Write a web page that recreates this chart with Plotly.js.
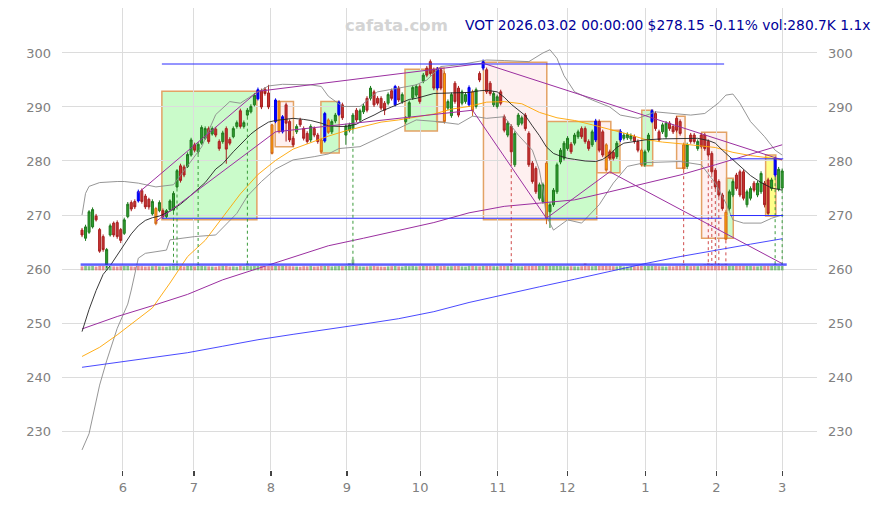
<!DOCTYPE html>
<html><head><meta charset="utf-8">
<script src="https://cdn.plot.ly/plotly-3.0.1.min.js"></script>
<style>html,body{margin:0;padding:0;background:#fff}#chart{width:878px;height:505px}</style>
</head><body><div id="chart"></div>
<script>
// ---- daily OHLC (trading-day index 0..199, 2025-05-15 .. 2026-03-02) ----
const openP = [267.2,265.7,266.8,267.8,269.8,267.3,266.0,260.8,266.3,268.5,
268.6,267.3,266.6,269.7,272.3,272.5,274.3,274.5,273.5,272.9,
270.2,271.2,270.8,270.8,269.7,271.0,270.9,275.2,279.1,278.9,
279.0,281.1,283.0,281.7,283.3,284.2,286.0,285.0,285.9,283.6,
283.6,286.0,284.0,284.5,286.4,289.3,286.4,288.5,289.1,290.4,
291.5,293.0,293.3,292.6,286.7,287.3,291.0,285.4,290.4,287.3,
284.2,285.4,287.6,286.0,285.1,283.9,286.0,284.8,283.9,283.7,
287.6,285.4,287.4,288.6,290.4,284.8,285.7,286.0,289.4,287.6,
289.1,291.6,291.6,292.8,291.6,291.6,290.7,290.7,293.0,290.4,
293.5,291.0,287.3,288.2,291.7,292.2,293.8,294.8,297.2,298.4,
296.9,293.5,296.9,296.2,289.8,288.4,294.4,293.5,290.7,291.0,
290.4,292.8,290.1,296.2,297.2,296.9,294.4,290.4,290.1,292.8,
288.2,284.8,286.4,279.3,286.7,287.0,288.5,285.1,279.6,278.6,
273.1,272.5,279.6,270.6,271.9,274.3,279.8,280.5,282.3,283.1,
283.3,284.5,286.0,286.0,283.6,283.0,283.9,287.3,285.4,283.0,
281.7,281.6,280.8,283.9,284.2,284.3,284.1,284.5,283.6,282.0,
279.3,282.0,287.3,288.8,285.4,285.4,284.5,287.0,286.4,287.9,
287.3,283.0,279.0,284.8,284.8,282.3,284.8,284.8,283.6,281.4,
278.3,276.2,273.7,270.5,271.2,273.7,277.4,278.0,278.0,271.9,
273.1,275.9,273.7,274.3,275.9,276.5,274.9,277.4,274.8,275.0];
const highP = [267.6,268.2,270.9,271.4,270.2,267.6,266.4,263.9,268.4,268.8,
269.0,267.6,269.5,272.4,272.7,272.9,274.7,274.9,273.9,273.2,
272.9,271.5,272.7,271.2,271.1,272.9,274.4,278.5,279.5,279.3,
281.6,284.3,283.4,283.5,286.6,286.4,286.4,286.4,286.3,284.0,
285.6,286.4,284.4,286.4,287.5,289.7,287.5,289.8,290.5,292.6,
293.6,293.4,293.7,294.1,286.9,291.6,291.3,288.5,290.8,287.7,
284.6,286.8,288.0,286.4,285.5,286.8,286.4,285.2,284.2,289.1,
287.9,287.7,288.9,291.2,290.8,286.9,287.1,288.9,289.8,289.7,
290.6,292.0,293.9,293.2,292.0,292.0,291.1,292.7,293.4,294.1,
293.9,292.7,288.3,291.2,294.0,294.2,294.2,296.3,297.6,298.8,
297.3,297.4,297.3,296.6,291.4,292.7,294.8,293.9,293.2,292.7,
294.0,293.2,293.6,296.6,298.8,297.3,294.8,292.9,292.3,293.2,
288.6,287.4,286.8,285.5,288.9,288.4,288.9,285.5,280.0,279.0,
276.0,276.0,279.9,272.3,275.0,279.7,282.4,283.7,284.6,283.5,
285.2,285.8,286.4,286.4,284.0,285.8,287.8,287.7,285.8,283.3,
282.1,282.0,283.7,285.9,285.2,285.3,285.1,284.9,284.0,282.3,
282.1,285.2,289.6,289.2,285.8,287.1,287.4,287.4,286.8,288.3,
287.7,283.4,283.4,285.2,285.2,284.0,285.2,285.2,284.0,281.8,
278.7,276.6,274.1,270.9,274.7,276.6,277.8,278.4,278.4,274.7,
275.3,276.3,276.3,278.1,276.3,276.9,276.9,280.8,278.9,278.6];
const lowP = [265.9,265.2,266.5,267.5,268.8,263.0,263.2,260.2,266.0,265.9,
265.6,264.8,266.3,269.4,270.7,271.1,272.3,272.1,271.1,271.0,
269.9,268.1,270.5,269.3,269.4,270.7,270.6,274.9,276.0,277.0,
278.7,280.8,281.6,281.3,283.0,283.9,283.2,284.7,284.4,281.9,
283.2,279.5,282.9,284.2,286.0,286.0,286.0,288.2,288.8,290.1,
291.2,289.6,292.1,289.6,281.2,287.0,285.1,285.1,283.6,283.5,
282.6,285.0,286.3,283.8,283.2,283.5,284.4,283.2,281.4,283.4,
285.0,285.0,287.0,288.3,287.6,283.0,285.3,285.6,287.2,287.2,
288.7,289.0,291.2,290.0,290.3,289.4,288.5,290.3,291.2,290.1,
290.9,290.6,286.9,287.8,291.3,291.8,290.6,294.4,295.5,295.8,
293.1,293.1,293.1,286.9,289.4,288.0,290.6,288.1,290.3,290.6,
290.0,288.3,289.7,294.6,296.8,292.4,292.1,290.0,289.7,290.3,
285.3,284.4,279.6,278.9,286.3,286.6,285.6,278.9,275.8,273.9,
272.7,272.1,268.3,267.6,271.5,273.9,279.4,280.1,281.9,281.3,
282.9,284.1,284.1,283.2,281.9,282.6,283.5,281.6,280.7,278.0,
280.1,280.1,280.4,283.5,283.8,283.9,283.7,283.2,281.6,279.0,
278.9,281.6,287.0,285.6,283.5,285.0,284.1,285.6,285.0,285.3,
284.7,278.3,278.5,283.2,283.2,281.9,282.3,281.9,280.7,277.6,
274.8,273.3,270.8,265.3,270.8,273.3,274.5,273.3,272.7,271.4,
272.7,274.2,273.3,273.9,271.4,269.9,274.5,277.0,274.4,274.6];
const closeP = [266.3,267.8,270.6,271.0,269.1,263.3,263.6,263.6,268.0,266.3,
266.0,265.3,269.1,272.0,271.1,271.5,272.6,272.5,271.5,271.5,
272.5,268.4,272.3,269.7,270.8,272.6,274.0,278.2,276.4,277.4,
281.2,283.9,282.0,283.1,286.2,286.0,283.6,286.0,284.8,282.3,
285.2,282.2,283.3,286.0,287.1,286.4,287.1,289.4,290.1,292.2,
293.2,290.0,292.5,290.0,281.4,291.3,285.4,288.2,287.0,283.9,
283.0,286.4,286.7,284.2,283.6,286.4,284.8,283.6,281.7,288.8,
285.3,287.3,288.5,290.9,288.0,286.5,286.7,288.5,287.6,289.3,
290.2,289.4,293.5,290.4,290.7,289.8,289.4,292.3,291.6,293.8,
291.3,292.3,287.9,290.8,293.6,293.8,291.0,295.9,295.9,296.2,
293.5,297.0,293.5,287.3,291.0,292.3,291.0,288.5,292.8,292.3,
293.6,289.3,293.2,295.0,298.4,292.8,292.5,292.5,291.9,290.7,
285.7,287.0,281.7,285.1,288.5,288.0,286.0,279.3,276.2,274.3,
275.6,275.6,269.4,271.9,274.6,279.3,282.0,283.3,284.2,281.7,
284.8,285.4,284.5,283.6,282.3,285.4,287.4,282.0,281.1,278.3,
280.5,280.5,283.3,285.5,284.8,284.9,284.7,283.6,282.0,279.3,
281.7,284.8,289.3,286.0,283.9,286.7,287.0,286.0,285.4,285.7,
285.1,278.6,283.0,283.6,283.6,283.6,282.7,282.3,281.1,278.0,
275.2,273.7,271.2,265.5,274.3,276.2,274.9,273.7,273.1,274.3,
274.9,274.6,275.9,277.7,271.9,270.3,276.5,280.5,278.46,278.15];
const volumeK = [240,260,250,270,230,300,280,320,250,240,
230,250,260,270,240,220,260,250,230,240,
250,280,240,230,220,250,380,390,260,240,
270,280,240,370,260,250,240,230,220,250,
260,280,230,240,220,270,240,420,250,260,
280,270,240,260,300,280,290,270,260,250,
240,230,220,250,240,260,230,240,280,290,
270,240,250,260,250,260,430,650,260,240,
230,240,250,260,240,230,220,240,250,270,
240,230,260,250,260,240,250,270,260,250,
260,270,250,290,240,250,260,270,240,230,
260,270,250,240,280,300,270,250,240,260,
280,260,380,290,250,240,260,290,310,300,
280,270,320,290,270,280,260,250,240,250,
240,230,250,420,260,250,280,290,270,300,
260,250,240,270,230,220,230,240,250,280,
260,270,290,280,250,240,230,250,240,260,
270,380,290,250,260,250,300,360,430,380,
330,360,370,400,300,280,270,290,300,280,
260,250,240,260,290,300,270,390,270,280.7];

// highlighted candles
const blueIdx = [16,50,55,57,69,73,89,101,110,114,146,153,162,197];
const orangeIdx = [21,54,56,68,70,103,111,132,149,159,171,183];
// high-volume dotted markers
const greenDotIdx = [26,27,33,47,77,197,199];
const redDotIdx = [122,171,178,179,180,181,183];

// month ticks
const monthTickPos = [11.6,31.8,53.7,75.3,96.1,118.2,137.9,160.1,180.3,199];
const monthTickText = ['6','7','8','9','10','11','12','1','2','3'];
const priceTicks = [230,240,250,260,270,280,290,300];

// moving averages / bands (sampled)
const maBlackIdx = [0,2,4,6,8,10,12,14,16,18,20,22,25,28,30,33,35,38,40,43,45,48,50,53,55,58,60,63,65,68,70,73,75,78,80,83,85,88,90,93,95,98,100,105,110,113,115,118,120,122,124,126,128,130,132,134,136,138,140,143,146,148,150,152,154,156,158,160,165,170,175,178,180,182,184,186,188,190,193,196,199];
const maBlackVal = [248.4,252.5,256.0,259.0,260.6,262.5,264.5,266.5,268.0,269.0,269.5,269.8,270.7,272.0,273.1,274.8,276.0,278.5,279.5,281.7,283.0,285.0,286.0,287.2,287.5,287.8,287.9,287.7,287.5,287.0,286.5,286.4,286.4,286.8,287.6,288.5,289.2,290.0,290.6,291.4,291.6,292.2,292.5,292.6,292.7,293.0,293.1,292.8,291.8,290.5,289.5,288.4,286.5,284.7,282.6,281.4,280.9,280.5,280.3,280.0,279.9,280.3,281.2,282.5,283.3,283.5,283.6,283.9,284.1,284.2,284.2,283.8,283.3,282.0,280.8,279.6,278.4,277.3,276.0,275.0,274.6];
const maOrangeIdx = [0,5,10,15,20,25,30,35,40,45,50,55,60,65,70,75,80,85,90,95,100,105,110,115,120,125,130,135,140,145,150,155,160,165,170,175,180,185,190,195,199];
const maOrangeVal = [243.8,245.5,247.8,250.3,252.8,257.4,262.3,265.3,269.7,273.9,277.5,280.1,282.2,283.4,284.6,285.6,286.4,287.2,287.6,288.1,288.7,289.6,290.1,290.9,291.0,290.6,289.0,288.0,287.5,286.7,285.9,285.0,284.0,283.5,283.2,282.9,282.5,281.6,281.0,280.6,280.2];
const maLongIdx = [0,10,20,30,40,50,60,70,80,90,100,110,120,130,140,150,160,170,180,190,199];
const maPurpleVal = [248.9,251.2,253.2,255.3,258.0,260.1,262.3,264.3,265.7,267.2,268.6,270.4,271.6,272.2,272.8,274.3,275.8,277.4,279.3,281.2,283.0];
const maBlueVal = [241.8,242.7,243.6,244.5,245.7,246.9,247.9,248.8,249.8,250.8,252.1,253.8,255.3,256.7,258.1,259.6,261.0,262.3,263.5,264.6,265.6];
const bbUpIdx = [0,1,2,5,10,12,16,21,26,30,34,38,42,45,49,53,57,65,68,70,74,79,84,90,95,98,102,107,111,115,120,127,131,133,135,137,140,145,150,153,158,163,173,177,181,183,185,187,190,194,197,199];
const bbUpVal = [270.0,274.0,275.3,276.0,276.2,276.2,275.9,275.2,275.6,279.0,282.6,288.6,291.0,290.7,292.4,293.9,294.2,294.1,293.8,292.0,290.1,290.1,292.8,293.5,294.1,295.0,297.5,297.8,298.3,298.7,298.6,298.4,300.0,300.6,299.0,295.8,292.8,291.3,290.0,288.5,287.9,289.1,288.5,288.8,290.8,292.2,292.4,290.7,287.3,284.5,282.0,281.1];
const bbLoIdx = [0,2,5,7,10,13,14,16,18,24,25,32,38,44,47,51,55,60,66,70,73,79,86,90,95,101,107,111,115,120,124,128,130,131,132,134,138,142,147,151,155,160,170,176,180,183,185,188,193,196,199];
const bbLoVal = [226.5,229.5,238.5,243.0,249.0,253.5,256.1,262.0,262.9,263.5,265.4,266.0,266.3,270.3,273.5,276.2,278.5,280.2,280.8,281.3,282.3,282.65,284.8,286.05,287.6,287.3,286.8,288.3,287.9,288.2,284.8,282.0,278.3,274.6,269.8,267.2,269.1,268.5,271.9,275.9,279.0,279.7,279.9,279.3,275.9,272.2,269.1,268.5,268.5,269.4,270.0];

// zones (boxes)
const boxStart = [22.7,54.9,67.9,91.8,100.8,114.1,132.1,146.3,150.3,159.1,169.0,176.1,183.2,194.3];
const boxEnd   = [49.7,60.1,73.1,101.0,102.9,132.1,146.3,150.3,152.9,162.2,171.4,183.2,185.1,197.2];
const boxLow   = [269.1,282.65,281.5,285.55,287.2,269.1,269.1,277.8,277.8,279.1,278.65,265.7,265.7,269.8];
const boxHigh  = [292.9,291.0,291.0,297.0,297.2,298.3,287.3,287.3,285.7,289.4,288.3,285.3,276.8,281.1];
const boxKind  = ['up','down','up','up','down','down','up','down','up','up','down','down','up','flat'];

// trend lines
const trFromI = [16,50,114,21,55,111,132,150];
const trFromV = [274.1,292.9,298.1,268.8,285.4,289.4,269.4,278.0];
const trToI   = [50,114,199,55,111,132,150,199];
const trToV   = [292.9,298.1,280.2,285.4,289.4,269.4,278.0,261.0];

// horizontal levels
const lvFromI = [22.7,22.7,184.2,184.2];
const lvToI   = [182.5,181.8,199.3,199.3];
const lvVal   = [297.96,269.4,280.4,269.9];
const volLineVal = [260.9,260.65];
const volLineFrom = -0.4, volLineTo = 200.3;
const volBase = 259.75, volUnit = 0.8/260;

// ---------------- build ----------------
const idx = openP.map((_, i) => i);
const blueSet = new Set(blueIdx), orangeSet = new Set(orangeIdx);
function subset(list){ return {x:list, open:list.map(i=>openP[i]), high:list.map(i=>highP[i]), low:list.map(i=>lowP[i]), close:list.map(i=>closeP[i])}; }
const normalIdx = idx.filter(i => !blueSet.has(i) && !orangeSet.has(i));

const traces = [];
// volume bars
traces.push({type:'bar', x:idx, y:volumeK.map(v=>v*volUnit), base:volBase, width:0.78,
  marker:{color: idx.map(i => closeP[i] >= openP[i] ? 'rgba(40,150,40,0.55)' : 'rgba(210,60,60,0.55)'), line:{width:0}},
  hoverinfo:'skip'});
// candles
const n = subset(normalIdx);
traces.push(Object.assign({type:'candlestick', whiskerwidth:0, hoverinfo:'skip',
  increasing:{line:{color:'#1f7a1f', width:1}, fillcolor:'#2f9e2f'},
  decreasing:{line:{color:'#a82020', width:1}, fillcolor:'#c83232'}}, n));
const b = subset(blueIdx);
traces.push(Object.assign({type:'candlestick', whiskerwidth:0, hoverinfo:'skip',
  increasing:{line:{color:'#0000ee', width:1}, fillcolor:'#0000ff'},
  decreasing:{line:{color:'#0000ee', width:1}, fillcolor:'#0000ff'}}, b));
const o = subset(orangeIdx);
traces.push(Object.assign({type:'candlestick', whiskerwidth:0, hoverinfo:'skip',
  increasing:{line:{color:'#d2691e', width:1}, fillcolor:'#ffa500'},
  decreasing:{line:{color:'#d2691e', width:1}, fillcolor:'#ffa500'}}, o));

function line(x, y, color, width, dash, yaxis){
  return {type:'scatter', mode:'lines', x:x, y:y, line:{color:color, width:width, dash:dash||'solid'}, hoverinfo:'skip', yaxis:yaxis||'y', connectgaps:false};
}
// bands and MAs
traces.push(line(bbUpIdx, bbUpVal, '#8a8a8a', 0.9));
traces.push(line(bbLoIdx, bbLoVal, '#8a8a8a', 0.9));
traces.push(line(maLongIdx, maPurpleVal, '#9b2fa0', 1));
traces.push(line(maOrangeIdx, maOrangeVal, '#ffa500', 0.9));
traces.push(line(maBlackIdx, maBlackVal, '#222222', 0.9));

// dotted volume markers
function dots(list, color){
  const x=[], y=[];
  list.forEach(i => { x.push(i, i, null); y.push(lowP[i], volBase + 0.8, null); });
  return line(x, y, color, 1, 'dot');
}
traces.push(dots(greenDotIdx, '#3a9a3a'));
traces.push(dots(redDotIdx, '#d04a4a'));

// trend lines
(function(){
  const x=[], y=[];
  trFromI.forEach((f,k)=>{ x.push(f, trToI[k], null); y.push(trFromV[k], trToV[k], null); });
  traces.push(line(x, y, '#9b2fa0', 1));
})();
// levels
(function(){
  const x=[], y=[];
  lvVal.forEach((v,k)=>{ x.push(lvFromI[k], lvToI[k], null); y.push(v, v, null); });
  traces.push(line(x, y, '#2b2bff', 1));
})();
traces.push(line([volLineFrom, volLineTo], [volLineVal[0], volLineVal[0]], '#2b2bff', 1.4));
traces.push(line([volLineFrom, volLineTo], [volLineVal[1], volLineVal[1]], '#7878ff', 1));
// long MA on right axis (same scale)
traces.push(line(maLongIdx, maBlueVal, '#3535ff', 0.9, 'solid', 'y2'));

const fills = {up:'rgba(60,240,60,0.27)', down:'rgba(240,60,60,0.08)', flat:'rgba(255,255,40,0.55)'};
const shapes = boxStart.map((s,k)=>({type:'rect', xref:'x', yref:'y', x0:s, x1:boxEnd[k], y0:boxLow[k], y1:boxHigh[k],
  fillcolor:fills[boxKind[k]], line:{color:'#e3a265', width:1.5}, layer:'below'}));

const yr = [222.78, 308.33];
const tickFont = {family:'DejaVu Sans, sans-serif', size:13, color:'#808080'};
const layout = {
  width:878, height:505, margin:{l:62, r:61, t:8, b:35},
  paper_bgcolor:'#ffffff', plot_bgcolor:'#ffffff',
  showlegend:false, hovermode:false, boxgap:0.18,
  xaxis:{range:[-5.69, 208.9], tickmode:'array', tickvals:monthTickPos, ticktext:monthTickText,
    showgrid:true, gridcolor:'#dcdcdc', gridwidth:1, zeroline:false, showline:false,
    ticks:'outside', ticklen:5, tickcolor:'#444', tickwidth:1.2, tickfont:tickFont,
    rangeslider:{visible:false}, fixedrange:true},
  yaxis:{range:yr, tickmode:'array', tickvals:priceTicks, showgrid:true, gridcolor:'#dcdcdc', gridwidth:1,
    zeroline:false, showline:false, ticks:'', tickfont:tickFont, ticklabelstandoff:10, fixedrange:true},
  yaxis2:{range:yr, overlaying:'y', side:'right', tickmode:'array', tickvals:priceTicks, showgrid:false,
    zeroline:false, showline:false, ticks:'', tickfont:tickFont, ticklabelstandoff:10, fixedrange:true},
  shapes:shapes,
  annotations:[
    {xref:'paper', yref:'paper', x:0.443, y:0.963, xanchor:'center', yanchor:'middle', showarrow:false,
     text:'cafata.com', font:{family:'DejaVu Sans, sans-serif', size:16.5, color:'#d4d4d4', weight:'bold'}},
    {xref:'paper', yref:'paper', x:0.531, y:0.963, xanchor:'left', yanchor:'middle', showarrow:false,
     text:'VOT 2026.03.02 00:00:00 $278.15 -0.11% vol:280.7K 1.1x', font:{family:'DejaVu Sans, sans-serif', size:13.8, color:'#000099'}}
  ]
};
Plotly.newPlot('chart', traces, layout, {staticPlot:true, displayModeBar:false});
</script>
</body></html>
